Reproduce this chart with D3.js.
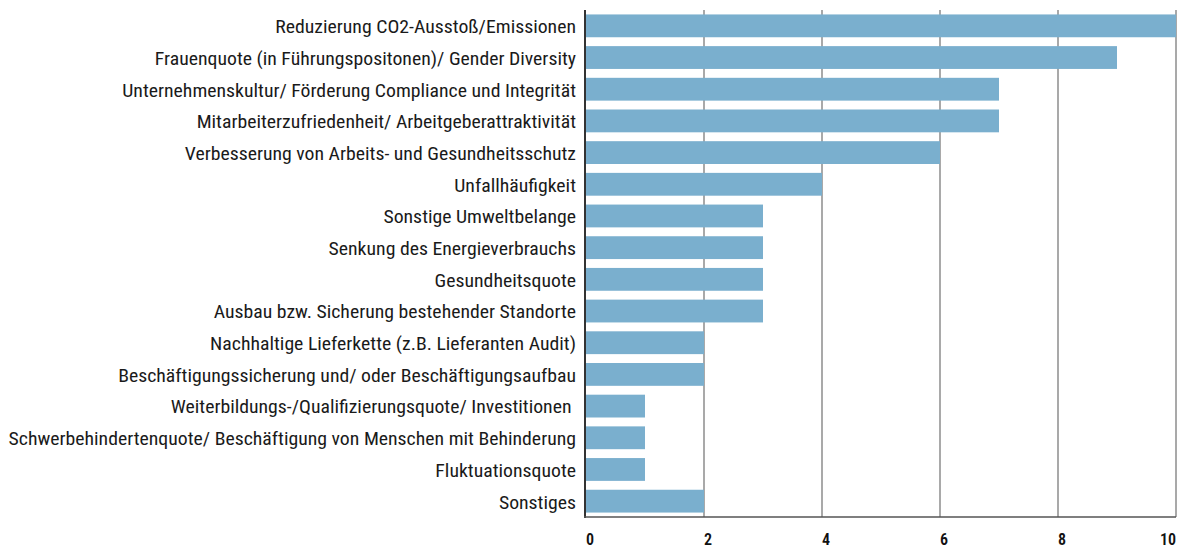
<!DOCTYPE html>
<html>
<head>
<meta charset="utf-8">
<script src="https://cdn.jsdelivr.net/npm/d3@7"></script>
<style>
  body { margin: 0; background: #fff; }
  text { font-family: "Liberation Sans Narrow", "Roboto Condensed", "Arial Narrow", sans-serif; }
</style>
</head>
<body>
<svg id="chart" width="1177" height="548"></svg>
<script>
// categories, top to bottom
var categories = [
  "Reduzierung CO2-Ausstoß/Emissionen",
  "Frauenquote (in Führungspositonen)/ Gender Diversity",
  "Unternehmenskultur/ Förderung Compliance und Integrität",
  "Mitarbeiterzufriedenheit/ Arbeitgeberattraktivität",
  "Verbesserung von Arbeits- und Gesundheitsschutz",
  "Unfallhäufigkeit",
  "Sonstige Umweltbelange",
  "Senkung des Energieverbrauchs",
  "Gesundheitsquote",
  "Ausbau bzw. Sicherung bestehender Standorte",
  "Nachhaltige Lieferkette (z.B. Lieferanten Audit)",
  "Beschäftigungssicherung und/ oder Beschäftigungsaufbau",
  "Weiterbildungs-/Qualifizierungsquote/ Investitionen ",
  "Schwerbehindertenquote/ Beschäftigung von Menschen mit Behinderung",
  "Fluktuationsquote",
  "Sonstiges"
];
var values = [10, 9, 7, 7, 6, 4, 3, 3, 3, 3, 2, 2, 1, 1, 1, 2];
var ticks = [0, 2, 4, 6, 8, 10];

var svg = d3.select("#chart");
var mLeft = 586, mRight = 1176, mTop = 10, mBottom = 517;

var x = d3.scaleLinear().domain([0, 10]).range([mLeft, mRight]);
var y = d3.scaleBand().domain(categories).range([mTop, mBottom])
  .paddingInner(0.28).paddingOuter(0.14);

// gridlines
svg.append("g").selectAll("line").data(ticks.slice(1)).join("line")
  .attr("x1", function (d) { return x(d); })
  .attr("x2", function (d) { return x(d); })
  .attr("y1", mTop).attr("y2", mBottom)
  .attr("stroke", "#a9a9a9").attr("stroke-width", 2);

// bars
svg.append("g").selectAll("rect").data(values).join("rect")
  .attr("x", x(0))
  .attr("y", function (d, i) { return y(categories[i]); })
  .attr("width", function (d) { return x(d) - x(0); })
  .attr("height", y.bandwidth())
  .attr("fill", "#7aafce");

// axes lines
svg.append("line").attr("x1", mLeft - 1).attr("x2", mLeft - 1)
  .attr("y1", mTop).attr("y2", mBottom + 1)
  .attr("stroke", "#333").attr("stroke-width", 2);
svg.append("line").attr("x1", mLeft - 2).attr("x2", mRight)
  .attr("y1", mBottom).attr("y2", mBottom)
  .attr("stroke", "#555").attr("stroke-width", 1.5);

// category labels, stretched so the longest one spans like the original
var lab = svg.append("g");
var labels = lab.selectAll("text").data(categories).join("text")
  .attr("x", 0)
  .attr("y", function (d) { return y(d) + y.bandwidth() / 2; })
  .attr("dy", "0.4em")
  .attr("text-anchor", "end")
  .attr("font-size", 18.5)
  .attr("fill", "#1a1a1a")
  .style("white-space", "pre")
  .text(function (d) { return d; });
var widest = d3.max(labels.nodes(), function (n) { return n.getComputedTextLength(); });
lab.attr("transform", "translate(576,0) scale(" + (568 / widest) + ",1)");

// tick labels
svg.append("g").selectAll("text").data(ticks).join("text")
  .attr("x", function (d) { return x(d); })
  .attr("y", 545)
  .attr("text-anchor", function (d) { return d === 10 ? "end" : "start"; })
  .attr("font-size", 16)
  .attr("font-weight", 600)
  .attr("fill", "#111")
  .text(function (d) { return d; });
</script>
</body>
</html>
